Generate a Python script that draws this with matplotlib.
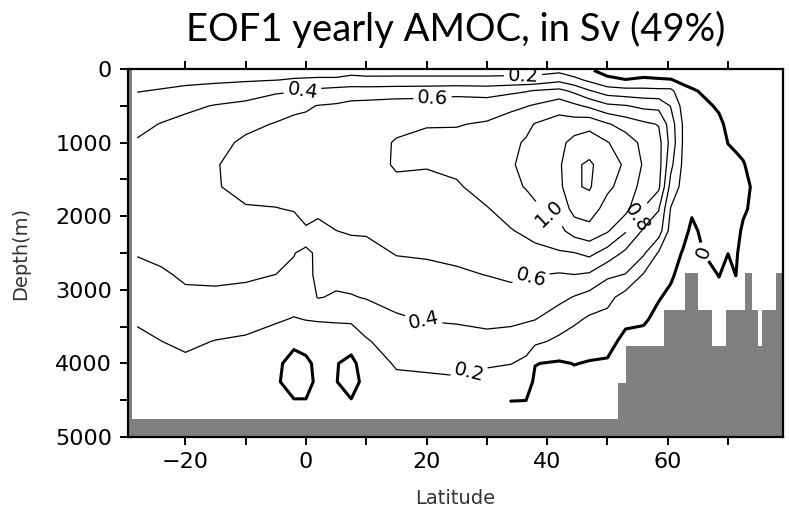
import matplotlib
matplotlib.use('Agg')
import matplotlib.pyplot as plt
import numpy as np

# model columns (deg N) and depth levels (m)
lats = [-28, -24, -20, -15, -10, -5, -2, 0, 2, 5, 7.5, 10, 15, 20, 25, 30, 34, 36.5, 38,
        42, 44.5, 47, 50, 53, 56, 58.5, 60.5, 62.5, 64, 66, 68.5, 70, 71.3, 72.5,
        74, 76.5, 79]
depths = [20, 150, 300, 500, 750, 1000, 1300, 1600, 1900, 2200, 2500, 2800, 3100,
          3400, 3700, 4000, 4250, 4520]

# EOF1 of the yearly AMOC (Sv), one depth profile per latitude column
eof1_profiles = [
    [0.10, 0.15, 0.195, 0.26, 0.34, 0.42, 0.48, 0.52, 0.52, 0.48, 0.41, 0.35, 0.29, 0.22, 0.16, 0.12, 0.10, 0.08],
    [0.12, 0.16, 0.21, 0.29, 0.41, 0.47, 0.52, 0.55, 0.55, 0.52, 0.45, 0.37, 0.31, 0.25, 0.199, 0.15, 0.12, 0.10],
    [0.12, 0.17, 0.23, 0.36, 0.45, 0.50, 0.54, 0.57, 0.57, 0.55, 0.50, 0.43, 0.36, 0.29, 0.23, 0.17, 0.13, 0.10],
    [0.12, 0.17, 0.27, 0.41, 0.49, 0.55, 0.59, 0.59, 0.57, 0.54, 0.49, 0.43, 0.37, 0.28, 0.195, 0.15, 0.12, 0.10],
    [0.12, 0.18, 0.32, 0.44, 0.56, 0.63, 0.66, 0.64, 0.59, 0.53, 0.47, 0.42, 0.36, 0.25, 0.18, 0.14, 0.11, 0.09],
    [0.14, 0.198, 0.37, 0.52, 0.61, 0.66, 0.68, 0.66, 0.595, 0.54, 0.47, 0.398, 0.32, 0.22, 0.12, 0.03, 0.02, 0.04],
    [0.15, 0.21, 0.39, 0.56, 0.64, 0.67, 0.69, 0.67, 0.61, 0.53, 0.41, 0.35, 0.28, 0.19, 0.03, -0.05, -0.06, 0.01],
    [0.13, 0.22, 0.41, 0.58, 0.64, 0.68, 0.69, 0.68, 0.63, 0.59, 0.33, 0.36, 0.30, 0.205, 0.09, -0.05, -0.06, 0.01],
    [0.12, 0.23, 0.45, 0.605, 0.66, 0.69, 0.70, 0.69, 0.64, 0.55, 0.46, 0.43, 0.41, 0.21, 0.12, 0.06, 0.04, 0.04],
    [0.12, 0.23, 0.48, 0.62, 0.68, 0.71, 0.72, 0.71, 0.67, 0.598, 0.50, 0.45, 0.38, 0.22, 0.10, 0.01, 0.005, 0.03],
    [0.15, 0.25, 0.50, 0.65, 0.70, 0.73, 0.74, 0.73, 0.69, 0.62, 0.52, 0.46, 0.39, 0.23, 0.08, -0.05, -0.06, 0.01],
    [0.14, 0.24, 0.50, 0.66, 0.72, 0.75, 0.76, 0.75, 0.70, 0.62, 0.54, 0.47, 0.41, 0.30, 0.18, 0.10, 0.05, 0.047],
    [0.13, 0.25, 0.51, 0.68, 0.77, 0.81, 0.81, 0.78, 0.72, 0.66, 0.61, 0.53, 0.45, 0.38, 0.30, 0.22, 0.16, 0.12],
    [0.13, 0.25, 0.52, 0.68, 0.79, 0.84, 0.81, 0.76, 0.71, 0.66, 0.62, 0.55, 0.47, 0.41, 0.31, 0.23, 0.17, 0.13],
    [0.13, 0.25, 0.54, 0.70, 0.79, 0.85, 0.84, 0.78, 0.73, 0.68, 0.63, 0.58, 0.50, 0.42, 0.33, 0.24, 0.18, 0.14],
    [0.13, 0.25, 0.52, 0.70, 0.82, 0.89, 0.91, 0.87, 0.79, 0.73, 0.67, 0.602, 0.52, 0.44, 0.35, 0.22, 0.14, 0.06],
    [0.13, 0.26, 0.56, 0.76, 0.88, 0.96, 0.98, 0.96, 0.87, 0.79, 0.71, 0.63, 0.54, 0.44, 0.32, 0.205, 0.10, -0.003],
    [0.13, 0.265, 0.59, 0.79, 0.95, 1.02, 1.05, 1.01, 0.93, 0.83, 0.73, 0.62, 0.52, 0.42, 0.28, 0.16, 0.08, -0.005],
    [0.13, 0.27, 0.62, 0.82, 1.01, 1.07, 1.10, 1.05, 0.97, 0.86, 0.75, 0.605, 0.49, 0.405, 0.24, 0.005, -0.03, -0.05],
    [0.15, 0.35, 0.66, 0.92, 1.08, 1.15, 1.17, 1.15, 1.06, 0.95, 0.78, 0.58, 0.45, 0.30, 0.16, -0.02, -0.06, -0.08],
    [0.08, 0.26, 0.56, 0.84, 1.10, 1.26, 1.37, 1.38, 1.27, 1.08, 0.795, 0.595, 0.39, 0.24, 0.10, 0.005, -0.05, -0.08],
    [0.02, 0.16, 0.42, 0.76, 1.14, 1.30, 1.43, 1.42, 1.30, 1.13, 0.85, 0.57, 0.33, 0.17, 0.07, -0.01, -0.04, -0.08],
    [-0.06, 0.04, 0.30, 0.64, 1.02, 1.21, 1.30, 1.24, 1.12, 1.02, 0.72, 0.43, 0.26, 0.14, 0.06, -0.02, -0.05, -0.08],
    [-0.08, 0.005, 0.27, 0.61, 0.92, 1.10, 1.17, 1.12, 1.06, 0.82, 0.56, 0.39, 0.12, 0.04, -0.05, -0.10, -0.12, -0.12],
    [-0.08, 0.03, 0.26, 0.55, 0.84, 0.95, 0.98, 0.93, 0.79, 0.57, 0.43, 0.18, 0.10, 0.02, -0.05, -0.10, -0.12, -0.12],
    [-0.10, 0.02, 0.25, 0.54, 0.79, 0.87, 0.88, 0.84, 0.61, 0.50, 0.18, 0.08, 0.01, -0.04, -0.08, -0.10, -0.12, -0.12],
    [-0.10, 0.01, 0.25, 0.39, 0.50, 0.53, 0.45, 0.33, 0.19, 0.12, 0.07, 0.02, -0.03, -0.06, -0.10, -0.10, -0.12, -0.12],
    [-0.15, -0.04, 0.06, 0.14, 0.19, 0.19, 0.17, 0.14, 0.10, 0.05, -0.01, -0.05, -0.08, -0.10, -0.12, -0.12, -0.12, -0.12],
    [-0.15, -0.06, 0.02, 0.07, 0.10, 0.11, 0.10, 0.07, 0.02, -0.03, -0.06, -0.08, -0.10, -0.12, -0.12, -0.12, -0.12, -0.12],
    [-0.15, -0.10, -0.02, 0.03, 0.07, 0.08, 0.08, 0.07, 0.05, 0.03, 0.002, -0.04, -0.07, -0.10, -0.12, -0.12, -0.12, -0.12],
    [-0.15, -0.12, -0.07, -0.02, 0.03, 0.05, 0.06, 0.05, 0.05, 0.04, 0.025, 0.003, -0.03, -0.06, -0.10, -0.12, -0.12, -0.12],
    [-0.15, -0.14, -0.10, -0.07, -0.03, -0.002, 0.03, 0.04, 0.04, 0.02, 0.001, -0.03, -0.06, -0.08, -0.10, -0.12, -0.12, -0.12],
    [-0.15, -0.14, -0.11, -0.08, -0.05, -0.015, 0.02, 0.03, 0.03, 0.02, 0.01, 0.001, -0.03, -0.06, -0.08, -0.10, -0.12, -0.12],
    [-0.15, -0.14, -0.12, -0.09, -0.06, -0.02, 0.005, 0.02, 0.01, -0.01, -0.03, -0.05, -0.07, -0.08, -0.10, -0.12, -0.12, -0.12],
    [-0.15, -0.14, -0.13, -0.11, -0.08, -0.05, -0.02, -0.005, -0.01, -0.03, -0.05, -0.06, -0.08, -0.10, -0.11, -0.12, -0.12, -0.12],
    [-0.15, -0.15, -0.14, -0.12, -0.10, -0.08, -0.06, -0.05, -0.05, -0.06, -0.07, -0.08, -0.09, -0.10, -0.11, -0.12, -0.12, -0.12],
    [-0.15, -0.15, -0.15, -0.13, -0.12, -0.10, -0.09, -0.08, -0.08, -0.08, -0.09, -0.10, -0.10, -0.11, -0.12, -0.12, -0.12, -0.12],
]

# ocean floor: latitude edges and depth of the top of the land in each band
topo_edges = [-29.6, -28.9, 51.8, 53.1, 59.4, 62.9, 65.1, 67.4, 69.6, 72.8, 73.9, 75.0, 75.7, 77.9, 79.2]
topo_depth = [0, 4760, 4260, 3760, 3270, 2770, 3270, 3760, 3270, 2770, 3270, 3760, 3270, 2770]

pos_levels = [0.2, 0.4, 0.6, 0.8, 1.0, 1.2, 1.4]

field = np.array(eof1_profiles).T

fig = plt.figure(figsize=(7.89, 5.14), dpi=100)
ax = fig.add_axes([0.1616, 0.1498, 0.8314, 0.716])

cs = ax.contour(lats, depths, field, levels=pos_levels, colors='black', linewidths=0.9)
cz = ax.contour(lats, depths, field, levels=[0], colors='black', linewidths=2.2)

# label spots, one per line as in the original
ax.clabel(cs, manual=[(-0.6, 285), (21, 394), (36, 85), (40.5, 1957), (54.6, 2010),
                      (37.5, 2870), (19.6, 3384), (27.2, 4160)],
          fmt='%.1f', fontsize=14, inline=True, inline_spacing=4)
ax.clabel(cz, manual=[(65.4, 2500)], fmt=lambda v: '0', fontsize=14, inline=True)

ax.stairs(topo_depth, topo_edges, baseline=5000, fill=True, color='#808080', zorder=3)

ax.set_xlim(-29.6, 79.2)
ax.set_ylim(5000, 0)
ax.set_xticks(range(-20, 80, 20))
ax.set_xticks(range(-20, 80, 10), minor=True)
ax.set_yticks(range(0, 5001, 1000))
ax.set_yticks(range(500, 5000, 1000), minor=True)
ax.tick_params(which='both', direction='out', length=6, width=1.4, top=True,
               labelsize=16, pad=5)
for s in ax.spines.values():
    s.set_linewidth(1.6)
    s.set_zorder(4)

ax.set_xlabel('Latitude', fontsize=14, color='#333333')
ax.set_ylabel('Depth(m)', fontsize=14, color='#333333')
ax.xaxis.set_label_coords(0.5, -0.142)
ax.yaxis.set_label_coords(-0.148, 0.5)

fig.text(0.577, 0.942, 'EOF1 yearly AMOC, in Sv (49%)', ha='center', va='center',
         fontsize=27.5, family='Lato')

fig.savefig('out.png', dpi=100)
